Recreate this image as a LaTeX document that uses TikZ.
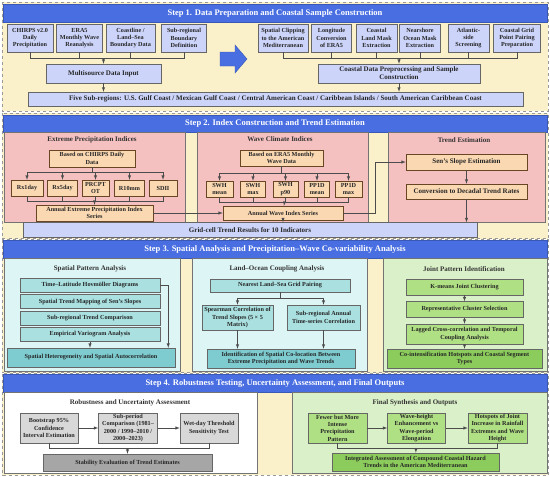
\documentclass[tikz,border=0pt]{standalone}
\usepackage{fontspec}
\setmainfont{Liberation Serif}
\usepackage{tikz}
\usetikzlibrary{arrows.meta}
\usetikzlibrary{positioning}
\tikzset{>=latex}
\usepackage{xcolor}
\definecolor{stepblue}{RGB}{72,110,226}
\definecolor{cream}{RGB}{250,240,202}
\definecolor{boxblue}{RGB}{204,212,250}
\definecolor{pinkpnl}{RGB}{245,192,192}
\definecolor{peach}{RGB}{250,216,178}
\definecolor{cyanpnl}{RGB}{222,245,245}
\definecolor{teal1}{RGB}{170,224,224}
\definecolor{teal2}{RGB}{126,204,208}
\definecolor{greenpnl}{RGB}{218,240,200}
\definecolor{green1}{RGB}{176,224,132}
\definecolor{green2}{RGB}{140,204,92}
\definecolor{gray1}{RGB}{216,216,216}
\definecolor{gray2}{RGB}{166,166,166}
\colorlet{linegray}{black!70}
\tikzstyle{box}=[draw=black!60,line width=0.5pt,align=center,inner sep=1pt,text=black!85,font=\fontsize{6.2}{7.3}\selectfont\bfseries]

\begin{document}
\begin{tikzpicture}[x=1pt,y=-1pt,
  con/.style={draw=linegray,line width=0.5pt},
  steppnl/.style={fill=cream,draw=black!40,dashed,line width=0.4pt},
  stepbar/.style={fill=stepblue,draw=stepblue!80!black,line width=0.4pt},
  steptxt/.style={text=white,font=\fontsize{8.5}{10}\selectfont\bfseries},
  subpnl/.style={draw=black!55,line width=0.4pt},
  ttl/.style={text=black!80,font=\fontsize{7}{8.4}\selectfont\bfseries},
  big/.style={font=\fontsize{7}{8.2}\selectfont\bfseries},
  inbox/.style={box,fill=boxblue},
  pbox/.style={box,fill=peach,draw=black!45!brown},
  tbox/.style={box,fill=teal1},
  tbox2/.style={box,fill=teal2},
  gbox/.style={box,fill=green1},
  gbox2/.style={box,fill=green2},
  gybox/.style={box,fill=gray1},
  gybox2/.style={box,fill=gray2}]
\useasboundingbox (0,0) rectangle (550,477);
\fill[white] (0,0) rectangle (550,477);

\draw[steppnl] (2,2) rectangle (548,111);
\draw[stepbar] (3,4) rectangle (547,22);
\node[steptxt] (st1) at (275,13.5) {Step 1. Data Preparation and Coastal Sample Construction};
\node[inbox,minimum width=46pt,minimum height=28pt] (chirps) at (30,38) {CHIRPS v2.0\\Daily\\Precipitation};
\node[inbox,minimum width=46pt,minimum height=28pt,right=3pt of chirps] (era5) {ERA5\\Monthly Wave\\Reanalysis};
\node[inbox,minimum width=49pt,minimum height=28pt,right=3pt of era5] (coast) {Coastline /\\Land–Sea\\Boundary Data};
\node[inbox,minimum width=45pt,minimum height=28pt,right=6pt of coast] (subreg) {Sub-regional\\Boundary\\Definition};
\node[inbox,big,minimum width=115pt,minimum height=19pt] (multi) at (103.5,73.5) {Multisource Data Input};
\node[inbox,minimum width=50pt,minimum height=28pt] (clip) at (283,38) {Spatial Clipping\\to the American\\Mediterranean};
\node[inbox,minimum width=40pt,minimum height=28pt,right=3pt of clip] (lon) {Longitude\\Conversion\\of ERA5};
\node[inbox,minimum width=41pt,minimum height=28pt,right=4pt of lon] (land) {Coastal\\Land Mask\\Extraction};
\node[inbox,minimum width=41pt,minimum height=28pt,right=2pt of land] (ocean) {Nearshore\\Ocean Mask\\Extraction};
\node[inbox,minimum width=41pt,minimum height=28pt,right=7pt of ocean] (atl) {Atlantic-\\side\\Screening};
\node[inbox,minimum width=47pt,minimum height=28pt,right=4pt of atl] (pairprep) {Coastal Grid\\Point Pairing\\Preparation};
\node[inbox,big,minimum width=162pt,minimum height=19pt] (prep) at (399,73.5) {Coastal Data Preprocessing and Sample\\Construction};
\node[inbox,big,minimum width=495pt,minimum height=14pt] (five) at (275.5,99) {Five Sub-regions: U.S. Gulf Coast / Mexican Gulf Coast / Central American Coast / Caribbean Islands / South American Caribbean Coast};
\draw[fill=stepblue,draw=stepblue!80!black,line width=0.4pt] (220,52) -- (235,52) -- (235,45) -- (247,59) -- (235,73) -- (235,66) -- (220,66) -- cycle;
\coordinate (j1) at (103.5,58);
\coordinate (j2) at (399,58);
\foreach \n in {chirps,era5,coast,subreg} \draw[con] (\n) |- (j1);
\foreach \n in {clip,lon,land,ocean,atl,pairprep} \draw[con] (\n) |- (j2);
\draw[con,->] (j1) -- (multi);
\draw[con,->] (j2) -- (prep);
\draw[con,->] (multi) -- (multi |- five.north);
\draw[con,->] (prep) -- (prep |- five.north);

\draw[steppnl] (2,113) rectangle (548,238.5);
\draw[stepbar] (3,115) rectangle (547,132);
\node[steptxt] (st2) at (275,123.5) {Step 2. Index Construction and Trend Estimation};
\draw[subpnl,fill=pinkpnl] (4,132) rectangle (185,222);
\draw[subpnl,fill=pinkpnl] (197,132) rectangle (368,222);
\draw[subpnl,fill=pinkpnl] (388,132) rectangle (545,222);
\node[ttl] (t21) at (92,140) {Extreme Precipitation Indices};
\node[ttl] (t22) at (280,139.5) {Wave Climate Indices};
\node[ttl] (t23) at (464,140) {Trend Estimation};
\node[pbox,minimum width=86pt,minimum height=17pt] (chirpsd) at (92,158.5) {Based on CHIRPS Daily\\Data};
\node[pbox,minimum width=32pt,minimum height=16pt] (rx1) at (27,188) {Rx1day};
\node[pbox,minimum width=30pt,minimum height=16pt,right=4pt of rx1] (rx5) {Rx5day};
\node[pbox,minimum width=27pt,minimum height=16pt,right=4pt of rx5] (prcp) {PRCPT\\OT};
\node[pbox,minimum width=30pt,minimum height=16pt,right=5pt of prcp] (r10) {R10mm};
\node[pbox,minimum width=28pt,minimum height=16pt,right=4pt of r10] (sdii) {SDII};
\node[pbox,minimum width=117pt,minimum height=16pt] (annext) at (94.5,213) {Annual Extreme Precipitation Index\\Series};
\node[pbox,minimum width=83pt,minimum height=16pt] (erad) at (281.5,158) {Based on ERA5 Monthly\\Wave Data};
\node[pbox,minimum width=27pt,minimum height=16pt] (swhmean) at (219.5,189) {SWH\\mean};
\node[pbox,minimum width=25pt,minimum height=16pt,right=7pt of swhmean] (swhmax) {SWH\\max};
\node[pbox,minimum width=25pt,minimum height=16pt,right=7pt of swhmax] (swhp) {SWH\\p90};
\node[pbox,minimum width=25pt,minimum height=16pt,right=6pt of swhp] (ppmean) {PP1D\\mean};
\node[pbox,minimum width=27pt,minimum height=16pt,right=5pt of ppmean] (ppmax) {PP1D\\max};
\node[pbox,minimum width=120pt,minimum height=14pt] (annwave) at (283,213) {Annual Wave Index Series};
\node[pbox,big,minimum width=121pt,minimum height=16pt] (sen) at (466.5,162) {Sen’s Slope Estimation};
\node[pbox,big,minimum width=121pt,minimum height=15pt] (conv) at (466.5,191.5) {Conversion to Decadal Trend Rates};
\node[inbox,big,minimum width=454pt,minimum height=15pt] (grid) at (250,230) {Grid-cell Trend Results for 10 Indicators};
\coordinate (ja) at (92,172);
\coordinate (jb) at (94.5,201);
\coordinate (jc) at (281.5,173);
\coordinate (jd) at (284.5,202);
\draw[con] (chirpsd) -- (ja);
\draw[con] (erad) -- (jc);
\foreach \n in {rx1,rx5,prcp,r10,sdii} {
  \draw[con,->] (ja) -| (\n);
  \draw[con] (\n) |- (jb);
}
\foreach \n in {swhmean,swhmax,swhp,ppmean,ppmax} {
  \draw[con,->] (jc) -| (\n);
  \draw[con] (\n) |- (jd);
}
\draw[con,->] (jb) -- (annext);
\draw[con,->] (jd) -- (annwave);
\draw[con,->] (annext.east) -- (annext.east -| annwave.west);
\draw[con,->] (annwave.east) -- ++(32,0) |- (sen);
\draw[con,->] (annwave) -- (annwave |- grid.north);
\draw[con,->] (sen) -- (conv);
\draw[con,->] (conv) -- (conv |- grid.north);

\draw[steppnl] (2,239.5) rectangle (548,372.5);
\draw[stepbar] (3,240) rectangle (547,258);
\node[steptxt] (st3) at (275,249) {Step 3. Spatial Analysis and Precipitation–Wave Co-variability Analysis};
\draw[subpnl,fill=cyanpnl] (4,258) rectangle (180,371);
\draw[subpnl,fill=cyanpnl] (192,258) rectangle (367,371);
\draw[subpnl,fill=greenpnl] (383,258) rectangle (547,371);
\node[ttl] (t31) at (90,268.5) {Spatial Pattern Analysis};
\node[ttl] (t32) at (277,269) {Land–Ocean Coupling Analysis};
\node[ttl] (t33) at (464,269) {Joint Pattern Identification};
\node[tbox,minimum width=140pt,minimum height=14pt] (hov) at (90,285) {Time–Latitude Hovmöller Diagrams};
\node[tbox,minimum width=140pt,minimum height=14pt,below=2pt of hov] (senmap) {Spatial Trend Mapping of Sen’s Slopes};
\node[tbox,minimum width=140pt,minimum height=14pt,below=2pt of senmap] (subcomp) {Sub-regional Trend Comparison};
\node[tbox,minimum width=140pt,minimum height=14pt,below=2pt of subcomp] (vario) {Empirical Variogram Analysis};
\node[tbox2,minimum width=168pt,minimum height=19pt] (hetero) at (91,357.5) {Spatial Heterogeneity and Spatial Autocorrelation};
\draw[con,->] (vario) -- (vario |- hetero.north);
\draw[con,->] (hov.east) -| ([xshift=-7pt]hetero.north east);
\node[tbox,minimum width=140pt,minimum height=13pt] (lspair) at (280,285.5) {Nearest Land–Sea Grid Pairing};
\node[tbox,minimum width=71pt,minimum height=25pt] (spear) at (237.5,317.5) {Spearman Correlation of\\Trend Slopes (5 × 5\\Matrix)};
\node[tbox,minimum width=73pt,minimum height=25pt] (tscorr) at (323.5,317.5) {Sub-regional Annual\\Time-series Correlation};
\node[tbox2,minimum width=148pt,minimum height=19pt] (coloc) at (281,358.5) {Identification of Spatial Co-location Between\\Extreme Precipitation and Wave Trends};
\coordinate (je) at (280,298);
\draw[con] (lspair) -- (je);
\draw[con,->] (je) -| (spear);
\draw[con,->] (je) -| (tscorr);
\draw[con,->] (spear) -- (spear |- coloc.north);
\draw[con,->] (tscorr) -- (tscorr |- coloc.north);
\node[gbox,minimum width=117pt,minimum height=16pt] (kmeans) at (464.5,287) {K-means Joint Clustering};
\node[gbox,minimum width=117pt,minimum height=16pt,below=6pt of kmeans] (repr) {Representative Cluster Selection};
\node[gbox,minimum width=117pt,minimum height=20pt,below=6pt of repr] (lagged) {Lagged Cross-correlation and Temporal\\Coupling Analysis};
\node[gbox2,minimum width=155pt,minimum height=19pt] (cointens) at (464.5,358.5) {Co-intensification Hotspots and Coastal Segment\\Types};
\draw[con,->] (kmeans) -- (repr);
\draw[con,->] (repr) -- (lagged);
\draw[con,->] (lagged) -- (cointens);

\draw[steppnl] (2,373.5) rectangle (548,475);
\draw[stepbar] (3,374) rectangle (547,392);
\node[steptxt] (st4) at (275,383) {Step 4. Robustness Testing, Uncertainty Assessment, and Final Outputs};
\draw[subpnl,fill=white] (4,392) rectangle (257,473);
\draw[subpnl,fill=greenpnl] (292,392) rectangle (547,473);
\node[ttl] (t41) at (130,403) {Robustness and Uncertainty Assessment};
\node[ttl] (t42) at (415,403) {Final Synthesis and Outputs};
\node[gybox,minimum width=58pt,minimum height=30pt] (boot) at (49,428) {Bootstrap 95\%\\Confidence\\Interval Estimation};
\node[gybox,minimum width=59pt,minimum height=30pt,right=20pt of boot] (subper) {Sub-period\\Comparison (1981–\\2000 / 1990–2010 /\\2000–2023)};
\node[gybox,minimum width=58pt,minimum height=30pt,right=22pt of subper] (wetday) {Wet-day Threshold\\Sensitivity Test};
\node[gybox2,minimum width=169pt,minimum height=17pt] (stab) at (127.5,462.5) {Stability Evaluation of Trend Estimates};
\coordinate (jf) at (127.5,448);
\draw[con,->] (boot) -- (subper);
\draw[con,->] (subper) -- (wetday);
\draw[con] (boot) |- (jf);
\draw[con] (wetday) |- (jf);
\draw[con,->] (jf) -- (stab);
\node[gbox,minimum width=59pt,minimum height=30pt] (fewer) at (337.5,428) {Fewer but More\\Intense\\Precipitation\\Pattern};
\node[gbox,minimum width=58pt,minimum height=30pt,right=20pt of fewer] (wavehe) {Wave-height\\Enhancement vs\\Wave-period\\Elongation};
\node[gbox,minimum width=59pt,minimum height=30pt,right=22pt of wavehe] (hotsp) {Hotspots of Joint\\Increase in Rainfall\\Extremes and Wave\\Height};
\node[gbox2,minimum width=167pt,minimum height=18pt] (integ) at (415.5,462) {Integrated Assessment of Compound Coastal Hazard\\Trends in the American Mediterranean};
\coordinate (jg) at (416,448);
\draw[con,->] (fewer) -- (wavehe);
\draw[con,->] (wavehe) -- (hotsp);
\draw[con] (fewer) |- (jg);
\draw[con] (hotsp) |- (jg);
\draw[con,->] (jg) -- (integ);
\end{tikzpicture}
\end{document}
